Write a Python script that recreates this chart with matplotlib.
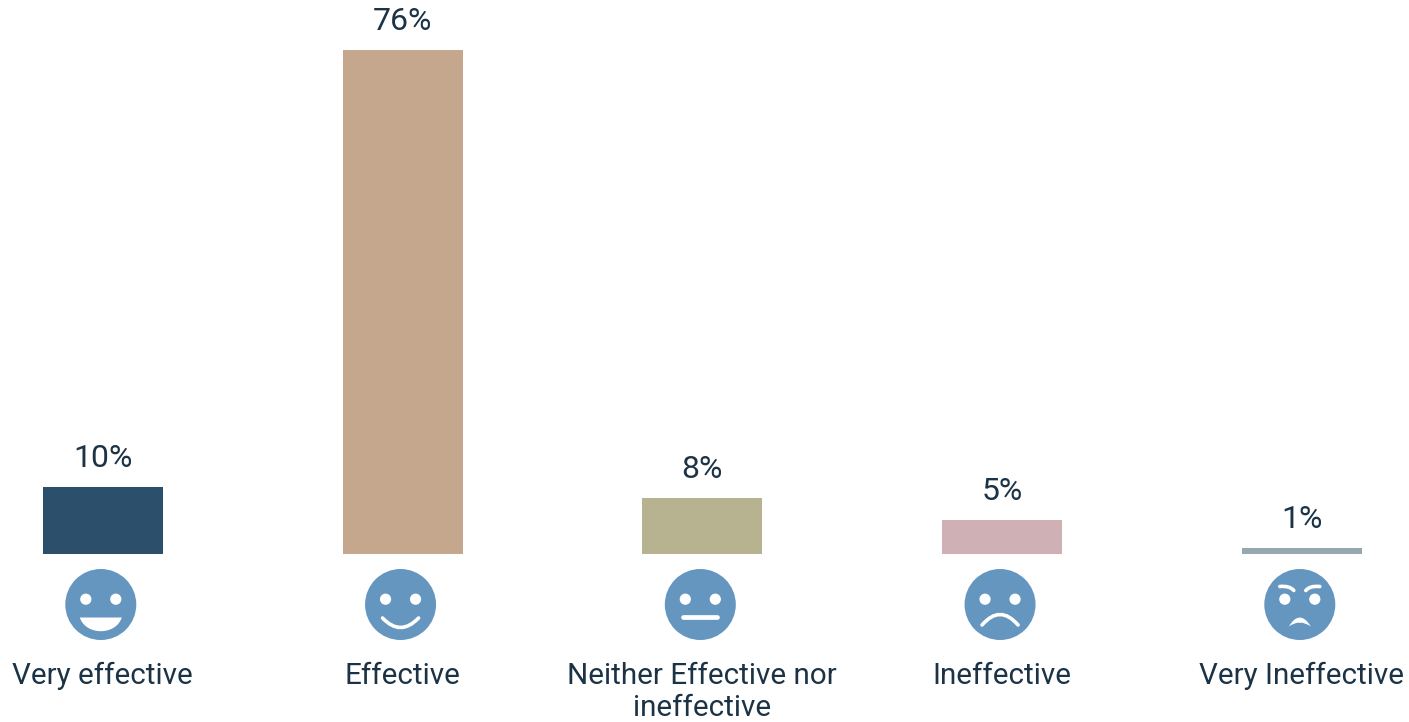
#!/usr/bin/env python3
import matplotlib
matplotlib.use("Agg")
import matplotlib.pyplot as plt
from matplotlib.patches import Circle, PathPatch
from matplotlib.path import Path

categories = ["Very effective", "Effective", "Neither Effective nor\nineffective", "Ineffective", "Very Ineffective"]
values = [10.1, 76, 8.4, 5.1, 0.9]
value_labels = ["10%", "76%", "8%", "5%", "1%"]
colors = ["#2c4f6b", "#c4a78c", "#b7b28f", "#cfb0b4", "#95a8af"]
faces = ["grin", "smile", "neutral", "frown", "angry"]

W, H = 1409, 722
BASE = 554      # bar baseline in pixels from the top
PX_PER_UNIT = 6.63
SPACING = 299.75
LEFT = 102.8
TEXT = "#1b3345"
FACE = "#6596c0"

plt.rcParams["font.family"] = ["Roboto", "DejaVu Sans"]

fig = plt.figure(figsize=(W / 100, H / 100), dpi=100)
ax = fig.add_axes([0, (H - BASE) / H, 1, BASE / H])
ax.set_xlim(-LEFT / SPACING, (W - LEFT) / SPACING)
ax.set_ylim(0, BASE / PX_PER_UNIT)

xs = list(range(len(categories)))
bars = ax.bar(xs, values, width=120 / SPACING, color=colors)
ax.bar_label(bars, labels=value_labels, padding=10, fontsize=23, color=TEXT)

ax.set_xticks(xs, categories, fontsize=21.3, color=TEXT, linespacing=1.2, va="top")
ax.tick_params(axis="x", length=0, pad=77.5)
ax.set_yticks([])
for s in ax.spines.values():
    s.set_visible(False)
ax.patch.set_alpha(0)


def curve(o, a, b, c, lw):
    o.add_patch(PathPatch(Path([a, b, c], [Path.MOVETO, Path.CURVE3, Path.CURVE3]),
                          fc="none", ec="white", lw=lw, capstyle="round"))


def draw_face(o, cx, cy, kind):
    p = lambda dx, dy: (cx + dx, cy + dy)
    o.add_patch(Circle(p(0, 0), 35.5, fc=FACE, ec="none"))
    o.add_patch(Circle(p(-15, -5.3), 5.6, fc="white", ec="none"))
    o.add_patch(Circle(p(15, -5.3), 5.6, fc="white", ec="none"))
    if kind == "grin":
        o.add_patch(PathPatch(Path([p(-21, 13), p(-15, 31.3), p(15, 31.3), p(21, 13), p(-21, 13)],
                                   [Path.MOVETO, Path.CURVE4, Path.CURVE4, Path.CURVE4, Path.CLOSEPOLY]),
                              fc="white", ec="none"))
    elif kind == "smile":
        curve(o, p(-18, 13.5), p(0, 32.5), p(18, 13.5), 2.6)
    elif kind == "neutral":
        o.plot([cx - 17, cx + 17], [cy + 12.7, cy + 12.7], color="white", lw=3.4, solid_capstyle="round")
    elif kind == "frown":
        curve(o, p(-18, 20.5), p(0, -0.5), p(18, 20.5), 2.6)
    elif kind == "angry":
        curve(o, p(-20, -18), p(-10, -19), p(-6, -14), 2.6)
        curve(o, p(20, -18), p(10, -19), p(6, -14), 2.6)
        o.add_patch(PathPatch(Path([p(-11, 22), p(0, 4), p(11, 22), p(0, 14), p(-11, 22)],
                                   [Path.MOVETO, Path.CURVE3, Path.CURVE3, Path.CURVE3, Path.CURVE3]),
                              fc="white", ec="none"))


# faces sit in a pixel-space overlay under the bars
overlay = fig.add_axes([0, 0, 1, 1])
overlay.set_xlim(0, W)
overlay.set_ylim(H, 0)
overlay.axis("off")
for x, kind in zip(xs, faces):
    draw_face(overlay, LEFT + x * SPACING - 2, 604.5, kind)

fig.savefig("out.png", dpi=100, facecolor="white")
